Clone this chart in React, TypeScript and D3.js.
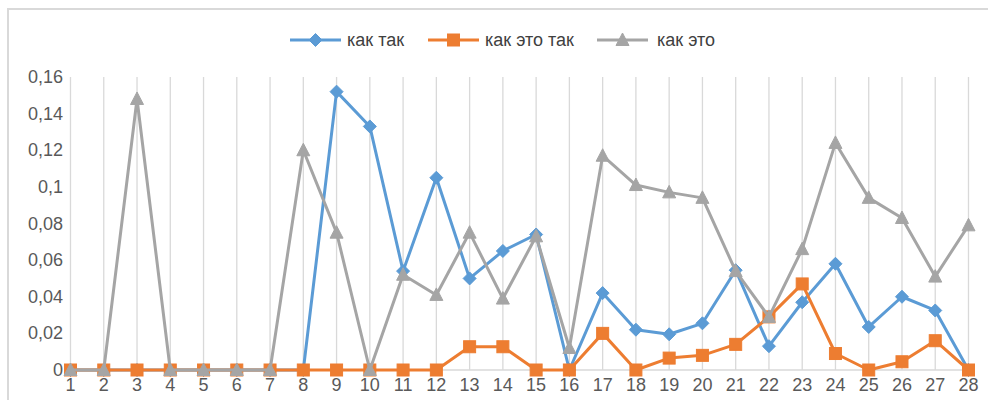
import React from 'react';
import * as d3 from 'd3';

const categories = ['1','2','3','4','5','6','7','8','9','10','11','12','13','14','15','16','17','18','19','20','21','22','23','24','25','26','27','28'];
const kakTak = [0,0,0,0,0,0,0,0,0.152,0.133,0.054,0.105,0.050,0.065,0.074,0,0.042,0.022,0.0195,0.0255,0.0545,0.013,0.037,0.058,0.0235,0.040,0.0325,0];
const kakEtoTak = [0,0,0,0,0,0,0,0,0,0,0,0,0.0127,0.0127,0,0,0.020,0,0.0065,0.008,0.014,0.029,0.047,0.009,0,0.0045,0.016,0];
const kakEto = [0,0,0.148,0,0,0,0,0.12,0.075,0,0.052,0.041,0.075,0.039,0.073,0.012,0.117,0.101,0.097,0.094,0.054,0.029,0.066,0.124,0.094,0.083,0.051,0.079];
const yTicks = [0,0.02,0.04,0.06,0.08,0.1,0.12,0.14,0.16];
const yTickLabels = ['0','0,02','0,04','0,06','0,08','0,1','0,12','0,14','0,16'];
const seriesNames = ['как так','как это так','как это'];
const seriesColors = ['#5B9BD5','#ED7D31','#A5A5A5'];
const seriesShapes = ['diamond','square','triangle'];

const FONT = '"Liberation Sans", Arial, sans-serif';

function Marker({ shape, x, y, color }: { shape: string; x: number; y: number; color: string }) {
  if (shape === 'diamond') {
    const r = 6.5;
    return <path d={`M${x},${y - r}L${x + r},${y}L${x},${y + r}L${x - r},${y}Z`} fill={color} stroke={color} strokeWidth={1} />;
  }
  if (shape === 'square') {
    const s = 6;
    return <rect x={x - s} y={y - s} width={2 * s} height={2 * s} fill={color} stroke={color} strokeWidth={1} />;
  }
  const h = 7;
  return <path d={`M${x},${y - h}L${x + 6.5},${y + 5.5}L${x - 6.5},${y + 5.5}Z`} fill={color} stroke={color} strokeWidth={1} />;
}

export default function App() {
  const width = 988, height = 400;
  const x = d3.scalePoint<string>().domain(categories).range([70.5, 968.5]);
  const y = d3.scaleLinear().domain([0, 0.16]).range([370, 77]);
  const line = d3.line<number>().x((_, i) => x(categories[i]) as number).y(d => y(d));
  const data = [kakTak, kakEtoTak, kakEto];

  const legendItems = [
    { lx: 290, tx: 347 },
    { lx: 428, tx: 485 },
    { lx: 597, tx: 657 },
  ];
  const legendY = 40;

  return (
    <svg width={width} height={height} style={{ position: 'absolute', left: 0, top: 0, background: '#fff' }}>
      <rect x={0} y={0} width={width} height={height} fill="#fff" />
      {/* chart frame (top and left only visible) */}
      <line x1={7} x2={width} y1={9} y2={9} stroke="#D9D9D9" strokeWidth={2} />
      <line x1={8} x2={8} y1={8} y2={height} stroke="#D9D9D9" strokeWidth={2} />

      {/* vertical gridlines */}
      {categories.map(c => (
        <line key={c} x1={x(c)} x2={x(c)} y1={y(0.16)} y2={y(0)} stroke="#D9D9D9" strokeWidth={1.3} />
      ))}
      <line x1={x('1')} x2={x('28')} y1={y(0)} y2={y(0)} stroke="#D9D9D9" strokeWidth={1.3} />

      {/* y labels */}
      {yTicks.map((t, i) => (
        <text key={t} x={63} y={y(t)} textAnchor="end" dominantBaseline="central" fontFamily={FONT} fontSize={18} fill="#595959">
          {yTickLabels[i]}
        </text>
      ))}
      {/* x labels */}
      {categories.map(c => (
        <text key={c} x={x(c)} y={391} textAnchor="middle" fontFamily={FONT} fontSize={18} fill="#595959">
          {c}
        </text>
      ))}

      {/* series */}
      {data.map((vals, si) => (
        <g key={si}>
          <path d={line(vals) || ''} fill="none" stroke={seriesColors[si]} strokeWidth={3} strokeLinejoin="round" />
          {vals.map((v, i) => (
            <Marker key={i} shape={seriesShapes[si]} x={x(categories[i]) as number} y={y(v)} color={seriesColors[si]} />
          ))}
        </g>
      ))}

      {/* legend */}
      {legendItems.map((it, i) => (
        <g key={i}>
          <line x1={it.lx} x2={it.lx + 51} y1={legendY} y2={legendY} stroke={seriesColors[i]} strokeWidth={3} />
          <Marker shape={seriesShapes[i]} x={it.lx + 25.5} y={legendY} color={seriesColors[i]} />
          <text x={it.tx} y={legendY} dominantBaseline="central" fontFamily={FONT} fontSize={18} fill="#404040">
            {seriesNames[i]}
          </text>
        </g>
      ))}
    </svg>
  );
}
